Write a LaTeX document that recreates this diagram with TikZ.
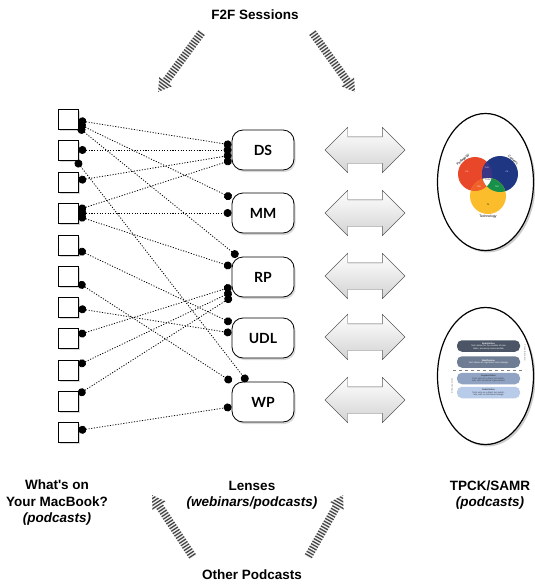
\documentclass[tikz,border=0pt]{standalone}
\usepackage{fontspec}
\setmainfont{Liberation Sans}
\newfontfamily\lensfont{Lato}
\usetikzlibrary{calc,positioning,shapes.geometric,shapes.arrows,shadows,arrows.meta}

\definecolor{vennred}{HTML}{E8472A}
\definecolor{vennblue}{HTML}{1F3783}
\definecolor{vennyellow}{HTML}{FBBD2C}
\definecolor{vennpurple}{HTML}{3A3585}
\definecolor{vennorange}{HTML}{F0612A}
\definecolor{venngreen}{HTML}{17914A}
\definecolor{samrA}{HTML}{4B5565}
\definecolor{samrB}{HTML}{6E7D93}
\definecolor{samrC}{HTML}{90A3C3}
\definecolor{samrD}{HTML}{B8CBE9}

% striped fat arrow between two named coordinates
\newcommand{\hatcharrow}[2]{%
  \coordinate (hneck) at ($(#2)!13pt!(#1)$);
  \begin{scope}
    \clip ($(#1)!4pt!90:(#2)$) -- ($(hneck)!4pt!90:(#2)$) -- ($(hneck)!8pt!90:(#2)$)
      -- (#2) -- ($(hneck)!8pt!-90:(#2)$) -- ($(hneck)!4pt!-90:(#2)$)
      -- ($(#1)!4pt!-90:(#2)$) -- cycle;
    \fill[gray!12] ($(#1)!-30pt!(#2)$) circle (120pt);
    \draw[gray!55!black,line width=24pt,dash pattern=on 1.3pt off 1.6pt] ($(#1)!-2pt!(#2)$) -- ($(#2)!-2pt!(#1)$);
  \end{scope}}

\begin{document}
\begin{tikzpicture}[x=1pt,y=-1pt,
    box/.style={draw,thick,fill=white,minimum size=20pt,inner sep=0pt,
      drop shadow={opacity=.3,shadow xshift=1.5pt,shadow yshift=-1.5pt}},
    lens/.style={draw,thick,fill=white,rounded corners=11pt,minimum width=62pt,
      minimum height=40pt,font=\lensfont\bfseries\fontsize{14}{16}\selectfont,
      drop shadow={opacity=.3,shadow xshift=1.5pt,shadow yshift=-2pt}},
    link/.style={line width=0.8pt,dash pattern=on 1.1pt off 1.6pt,
      {Circle[length=8pt]}-{Circle[length=8pt]}},
    twoway/.style={double arrow,double arrow head extend=9.5pt,minimum width=45pt,
      minimum height=80pt,inner xsep=0pt,inner ysep=13pt,draw=gray!70!black,
      top color=white,bottom color=gray!35},
    bubble/.style={ellipse,draw,line width=1.2pt,fill=white,minimum width=96pt,
      minimum height=137pt,drop shadow={opacity=.4,shadow xshift=2pt,shadow yshift=-2pt}},
    caption/.style={font=\bfseries\fontsize{13.5}{16.5}\selectfont,align=center},
    samr/.style={rounded corners=5pt,minimum width=63pt,minimum height=11.5pt,
      text width=56pt,inner sep=0.4pt,align=center,font=\fontsize{2.2}{2.5}\selectfont},
    tiny/.style={font=\fontsize{3.4}{4}\selectfont,inner sep=0pt}]
  \useasboundingbox (0,0) rectangle (535,587);

  % what's on your macbook
  \foreach \i/\y in {1/119,2/150,3/182,4/213,5/245,6/276,7/307,8/338,9/370,10/401,11/432}
    \node[box] (s\i) at (68,\y) {};

  % lenses
  \foreach \n/\y/\t in {ds/150/DS, mm/213/MM, rp/277/RP, udl/338/UDL, wp/402/WP}
  {
    \node[lens] (\n) at (263,\y) {\t};
  };

  \foreach \a/\b in {s1/ds, s1/mm, s1/rp, s2/ds, s2/wp, s3/ds, s4/ds, s4/mm, s4/rp,
      s5/udl, s6/wp, s7/udl, s8/rp, s9/rp, s10/rp, s11/wp}
    \draw[link] (\a) -- (\b);

  % two-way arrows
  \foreach \i/\y in {1/150,2/213,3/276,4/337,5/400}
    \node[twoway] (tw\i) at (365,\y) {};

  % TPCK
  \node[bubble] (tpck) at (485.5,182) {};
  \fill[vennred] (475,174) circle (17);
  \fill[vennblue] (500,174) circle (18);
  \fill[vennyellow] (488,196) circle (18);
  \begin{scope}
    \clip (475,174) circle (17);
    \fill[vennpurple] (500,174) circle (18);
    \fill[vennorange] (488,196) circle (18);
  \end{scope}
  \begin{scope}
    \clip (500,174) circle (18);
    \fill[venngreen] (488,196) circle (18);
  \end{scope}
  \begin{scope}
    \clip (475,174) circle (17);
    \clip (500,174) circle (18);
    \fill[white] (488,196) circle (18);
  \end{scope}
  \node[tiny,rotate=42] (ped) at (463,160) {Pedagogy};
  \node[tiny,rotate=-42] (con) at (513,160) {Content};
  \node[tiny] (tec) at (488,217) {Technology};
  \foreach \n/\p/\t/\c in {pk/{(467,172)}/PK/white, ck/{(507,172)}/CK/white,
      tk/{(488,205)}/TK/black, pck/{(487,168)}/PCK/white, tpk/{(479,187)}/TPK/white,
      tck/{(497,187)}/TCK/white, tpc/{(488,180)}/TPCK/black}
    \node[tiny,font=\fontsize{2}{2.4}\selectfont,text=\c] (\n) at \p {\t};

  % SAMR
  \node[bubble] (samrbub) at (485.5,376) {};
  \node[samr,fill=samrA,text=white] (redef) at (488.5,346)
    {\textbf{Redefinition}\\Tech allows for the creation of new tasks, previously inconceivable};
  \node[samr,fill=samrB,text=white] (modif) at (488.5,362)
    {\textbf{Modification}\\Tech allows for significant task redesign};
  \node[samr,fill=samrC,text=samrA!70!black] (augm) at (488.5,378.5)
    {\textbf{Augmentation}\\Tech acts as a direct tool substitute, with functional improvement};
  \node[samr,fill=samrD,text=samrA!70!black] (subst) at (488.5,392.5)
    {\textbf{Substitution}\\Tech acts as a direct tool substitute, with no functional change};
  \coordinate (cutl) at (453,370.3);
  \coordinate (cutr) at (523,370.3);
  \draw[gray,dashed,line width=0.6pt] (cutl) -- (cutr);
  \node[tiny,text=gray,rotate=-90,font=\fontsize{2.4}{3}\selectfont] (trans) at (525,353) {Transformation};
  \node[tiny,text=gray,rotate=90,font=\fontsize{2.4}{3}\selectfont] (enh) at (452,386) {Enhancement};

  % captions
  \node[caption] (f2f) at (255,15) {F2F Sessions};
  \node[caption] (mac) at (57,503) {What\textquotesingle s on\\Your MacBook?\\\textit{(podcasts)}};
  \node[caption] (lenses) at (252,495) {Lenses\\\textit{(webinars/podcasts)}};
  \node[caption] (tpsa) at (490,495) {TPCK/SAMR\\\textit{(podcasts)}};
  \node[caption] (other) at (252,575) {Other Podcasts};

  % striped arrows
  \coordinate (f2fa) at (202,32);   \coordinate (f2fb) at (158,92);
  \coordinate (f2fc) at (312,32);   \coordinate (f2fd) at (355,92);
  \coordinate (otha) at (193,557);  \coordinate (othb) at (152,495);
  \coordinate (othc) at (308,557);  \coordinate (othd) at (343,495);
  \hatcharrow{f2fa}{f2fb}
  \hatcharrow{f2fc}{f2fd}
  \hatcharrow{otha}{othb}
  \hatcharrow{othc}{othd}
\end{tikzpicture}
\end{document}
